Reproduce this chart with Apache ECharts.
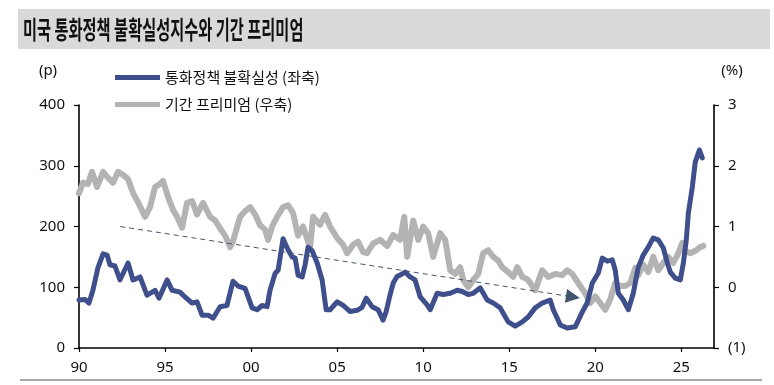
<!DOCTYPE html>
<html>
<head>
<meta charset="utf-8">
<script src="https://cdn.jsdelivr.net/npm/echarts@6/dist/echarts.min.js"></script>
<style>
  html, body { margin: 0; padding: 0; background: #fff; }
  #chart { width: 774px; height: 385px; }
</style>
</head>
<body>
<div id="chart"></div>
<script>
// ---- Data ----
const titleText = '미국 통화정책 불확실성지수와 기간 프리미엄';
const seriesNames = ['통화정책 불확실성 (좌축)', '기간 프리미엄 (우축)'];
const xTickYears = [1990, 1995, 2000, 2005, 2010, 2015, 2020, 2025];
const leftTicks = [0, 100, 200, 300, 400];
const rightTicks = [-1, 0, 1, 2, 3];

// Monetary policy uncertainty index (left axis, p)
const upuYears = [1990.00,1990.35,1990.58,1990.81,1991.10,1991.40,1991.63,1991.80,1992.09,1992.38,1992.85,1993.14,1993.55,1993.95,1994.42,1994.65,1995.12,1995.41,1995.87,1996.16,1996.57,1996.86,1997.15,1997.50,1997.79,1998.20,1998.60,1998.95,1999.24,1999.65,2000.06,2000.35,2000.64,2000.93,2001.10,2001.40,2001.57,2001.86,2002.09,2002.38,2002.56,2002.73,2002.97,2003.14,2003.31,2003.55,2003.84,2004.13,2004.36,2004.59,2005.00,2005.35,2005.76,2006.16,2006.45,2006.69,2007.03,2007.38,2007.67,2007.85,2008.08,2008.26,2008.49,2008.66,2008.95,2009.24,2009.53,2009.83,2010.23,2010.41,2010.81,2011.16,2011.57,2011.98,2012.27,2012.62,2012.91,2013.31,2013.72,2014.07,2014.48,2014.94,2015.35,2015.76,2016.10,2016.51,2016.92,2017.38,2017.56,2017.97,2018.37,2018.84,2019.24,2019.53,2019.83,2020.17,2020.41,2020.70,2020.99,2021.16,2021.34,2021.63,2021.92,2022.21,2022.50,2022.79,2023.08,2023.37,2023.66,2023.95,2024.19,2024.36,2024.65,2024.94,2025.12,2025.29,2025.41,2025.64,2025.81,2026.05,2026.22];
const upuValues = [79,80,74,95,132,155,153,137,135,112,140,112,117,87,95,82,112,95,92,84,74,76,54,54,49,68,70,110,102,98,66,63,70,68,95,123,128,180,165,150,148,120,117,137,166,160,140,112,63,63,76,70,60,62,67,82,68,63,46,60,88,107,118,120,125,117,112,84,71,63,90,88,90,95,93,88,90,99,79,74,66,43,36,43,51,66,74,79,63,38,33,35,59,74,107,123,148,143,145,128,90,79,63,90,133,153,166,181,178,165,140,125,115,112,140,178,222,265,306,326,313];

// Term premium (right axis, %)
const tpYears = [1990.00,1990.23,1990.52,1990.76,1991.05,1991.40,1991.69,1991.98,1992.27,1992.56,1992.85,1993.14,1993.43,1993.84,1994.13,1994.42,1994.71,1994.88,1995.17,1995.47,1995.70,1995.99,1996.28,1996.57,1996.86,1997.21,1997.62,1997.91,1998.20,1998.49,1998.78,1998.95,1999.36,1999.65,1999.94,2000.23,2000.52,2000.81,2000.99,2001.22,2001.51,2001.86,2002.15,2002.44,2002.73,2003.02,2003.31,2003.43,2003.60,2004.01,2004.30,2004.59,2005.00,2005.35,2005.58,2005.93,2006.22,2006.51,2006.74,2007.09,2007.50,2007.91,2008.26,2008.37,2008.66,2008.90,2009.07,2009.42,2009.71,2010.00,2010.29,2010.58,2010.99,2011.28,2011.57,2011.86,2012.15,2012.33,2012.62,2012.91,2013.20,2013.49,2013.78,2014.07,2014.36,2014.59,2014.94,2015.23,2015.47,2015.76,2016.10,2016.51,2016.92,2017.27,2017.67,2018.08,2018.37,2018.66,2019.01,2019.42,2019.71,2020.00,2020.29,2020.58,2020.87,2021.16,2021.45,2021.74,2022.03,2022.33,2022.50,2022.79,2023.08,2023.37,2023.66,2023.95,2024.24,2024.53,2024.83,2025.06,2025.23,2025.52,2025.81,2026.10,2026.28];
const tpValues = [1.55,1.72,1.70,1.90,1.65,1.90,1.80,1.72,1.90,1.85,1.78,1.55,1.40,1.16,1.32,1.65,1.70,1.75,1.49,1.27,1.16,0.98,1.39,1.42,1.20,1.39,1.16,1.10,0.97,0.85,0.66,0.76,1.16,1.25,1.32,1.20,1.02,0.95,0.78,1.00,1.16,1.32,1.35,1.22,0.85,1.00,0.75,0.66,1.16,1.03,1.19,1.00,0.81,0.70,0.56,0.70,0.75,0.58,0.56,0.72,0.78,0.68,0.86,0.89,0.78,1.16,0.50,1.10,0.78,1.00,0.89,0.50,0.89,0.78,0.28,0.22,0.33,0.12,0.00,0.12,0.22,0.56,0.61,0.50,0.44,0.33,0.25,0.17,0.33,0.17,0.12,-0.05,0.28,0.17,0.22,0.20,0.28,0.22,0.07,-0.10,-0.26,-0.15,-0.26,-0.37,-0.20,0.07,0.02,0.02,0.07,0.32,0.20,0.37,0.25,0.50,0.28,0.40,0.50,0.40,0.56,0.73,0.60,0.56,0.60,0.66,0.68];

// Dashed trend arrow (left-axis units)
const trendStart = [1992.4, 200];
const trendEnd = [2018.7, 84];

// ---- Build ----
const zip = (xs, ys) => xs.map((x, i) => [x, ys[i]]);
const navy = '#3f4f8b';
const grey = '#b3b3b3';
const numFont = '"Noto Sans", "Open Sans", sans-serif';
const krFont = '"Noto Sans CJK KR", "Noto Sans", sans-serif';

const chart = echarts.init(document.getElementById('chart'), null, { renderer: 'canvas' });

const option = {
  animation: false,
  backgroundColor: '#ffffff',
  grid: { left: 79, right: 60, top: 105, bottom: 37, containLabel: false },
  legend: {
    orient: 'vertical',
    left: 110,
    top: 65,
    itemWidth: 45,
    itemHeight: 5,
    itemGap: 12,
    icon: 'rect',
    textStyle: { fontFamily: krFont, fontSize: 15, color: '#111' },
    data: seriesNames
  },
  xAxis: {
    type: 'value',
    min: 1990,
    max: 2026.9,
    interval: 5,
    splitLine: { show: false },
    axisLine: { lineStyle: { color: '#000', width: 1.6 } },
    axisTick: { show: true, inside: false, length: 4, lineStyle: { color: '#000', width: 1.2 } },
    axisLabel: {
      margin: 12,
      fontFamily: numFont,
      fontSize: 15,
      color: '#111',
      showMaxLabel: false,
      formatter: v => (xTickYears.indexOf(v) >= 0 ? String(v).slice(2) : '')
    }
  },
  yAxis: [
    {
      type: 'value',
      min: leftTicks[0],
      max: leftTicks[leftTicks.length - 1],
      interval: 100,
      position: 'left',
      splitLine: { show: false },
      axisLine: { show: true, lineStyle: { color: '#000', width: 1.6 } },
      axisTick: { show: true, inside: false, length: 5, lineStyle: { color: '#000', width: 1.2 } },
      axisLabel: { margin: 14, fontFamily: numFont, fontSize: 15, color: '#111' }
    },
    {
      type: 'value',
      min: rightTicks[0],
      max: rightTicks[rightTicks.length - 1],
      interval: 1,
      position: 'right',
      splitLine: { show: false },
      axisLine: { show: true, lineStyle: { color: '#000', width: 1.6 } },
      axisTick: { show: true, inside: false, length: 5, lineStyle: { color: '#000', width: 1.2 } },
      axisLabel: {
        margin: 14, fontFamily: numFont, fontSize: 15, color: '#111',
        formatter: v => (v < 0 ? '(' + (-v) + ')' : String(v))
      }
    }
  ],
  series: [
    {
      name: seriesNames[1],
      type: 'line',
      yAxisIndex: 1,
      data: zip(tpYears, tpValues),
      showSymbol: false,
      smooth: false,
      z: 2,
      color: grey,
      lineStyle: { color: grey, width: 6, join: 'round', cap: 'round' }
    },
    {
      name: seriesNames[0],
      type: 'line',
      yAxisIndex: 0,
      data: zip(upuYears, upuValues),
      showSymbol: false,
      smooth: false,
      z: 3,
      color: navy,
      lineStyle: { color: navy, width: 5, join: 'round', cap: 'round' },
      markLine: {
        silent: true,
        symbol: ['none', 'triangle'],
        symbolSize: [14, 14],
        label: { show: false },
        lineStyle: { color: '#44546a', type: [5, 4], width: 1 },
        itemStyle: { color: '#44546a' },
        data: [[{ coord: trendStart }, { coord: trendEnd }]]
      }
    }
  ],
  graphic: [
    { type: 'rect', left: 18, top: 9, shape: { width: 752, height: 40 }, style: { fill: '#d9d9d9' }, silent: true, z: -1 },
    { type: 'text', x: 23, y: 29, scaleX: 0.61, style: { text: titleText, font: 'bold 25px "Noto Sans CJK KR", sans-serif', fill: '#111', textVerticalAlign: 'middle' } },
    { type: 'text', x: 48, y: 71, style: { text: '(p)', font: '15px "Noto Sans", sans-serif', fill: '#111', textAlign: 'center', textVerticalAlign: 'middle' } },
    { type: 'text', x: 732, y: 71, style: { text: '(%)', font: '15px "Noto Sans", sans-serif', fill: '#111', textAlign: 'center', textVerticalAlign: 'middle' } },
    { type: 'line', shape: { x1: 20, y1: 380, x2: 762, y2: 380 }, style: { stroke: '#a6a6a6', lineWidth: 2 }, silent: true }
  ]
};

chart.setOption(option);
</script>
</body>
</html>
